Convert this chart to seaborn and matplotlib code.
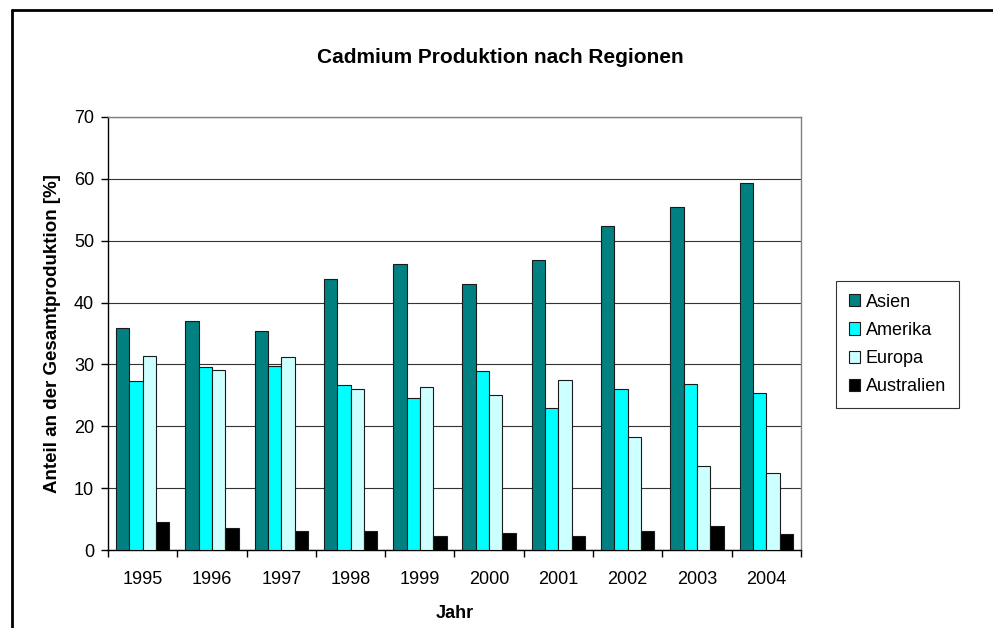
import matplotlib
matplotlib.use('Agg')
import matplotlib.pyplot as plt
import matplotlib.lines as mlines
import seaborn as sns
import pandas as pd

# Daten
jahre = ['1995', '1996', '1997', '1998', '1999', '2000', '2001', '2002', '2003', '2004']
asien = [35.9, 37.1, 35.4, 43.8, 46.3, 43.0, 46.9, 52.3, 55.4, 59.3]
amerika = [27.3, 29.6, 29.7, 26.7, 24.6, 29.0, 22.9, 26.0, 26.9, 25.4]
europa = [31.4, 29.1, 31.2, 26.0, 26.3, 25.0, 27.5, 18.2, 13.5, 12.5]
australien = [4.5, 3.5, 3.1, 3.0, 2.3, 2.7, 2.3, 3.1, 3.8, 2.6]

regionen = ['Asien', 'Amerika', 'Europa', 'Australien']
farben = ['#008080', '#00FFFF', '#CCFFFF', '#000000']

df = pd.DataFrame({'Jahr': jahre, 'Asien': asien, 'Amerika': amerika,
                   'Europa': europa, 'Australien': australien})
df = df.melt(id_vars='Jahr', var_name='Region', value_name='Anteil')

sns.set_style('white')
plt.rcParams['font.family'] = ['Liberation Sans', 'DejaVu Sans']
plt.rcParams['text.color'] = 'black'
plt.rcParams['axes.labelcolor'] = 'black'
plt.rcParams['xtick.color'] = 'black'
plt.rcParams['ytick.color'] = 'black'

fig = plt.figure(figsize=(9.93, 6.28), dpi=100)
ax = fig.add_axes([0.1088, 0.1242, 0.6978, 0.6895])

sns.barplot(data=df, x='Jahr', y='Anteil', hue='Region', hue_order=regionen,
            palette=farben, width=0.77, gap=0, saturation=1,
            edgecolor='#1a1a1a', linewidth=0.8, ax=ax, legend=False, zorder=3)

ax.set_ylim(0, 70)
ax.set_xlim(-0.5, 9.5)
ax.set_yticks(range(0, 71, 10))
ax.yaxis.grid(True, color='#333333', linewidth=0.8, zorder=0)
ax.set_axisbelow(True)

# Tick-Striche zwischen den Kategorien
ax.set_xticks([i + 0.5 for i in range(-1, 10)], minor=True)
ax.tick_params(axis='x', which='major', length=0, labelsize=13, pad=15)
ax.tick_params(axis='x', which='minor', length=5, width=1, direction='out', color='black')
ax.tick_params(axis='y', length=5, width=1, direction='out', color='black', labelsize=13, pad=5)
ax.xaxis.set_ticks_position('bottom')
ax.yaxis.set_ticks_position('left')

for s in ['left', 'bottom']:
    ax.spines[s].set_color('black')
    ax.spines[s].set_linewidth(1)
for s in ['top', 'right']:
    ax.spines[s].set_color('#808080')
    ax.spines[s].set_linewidth(1)

ax.set_xlabel('Jahr', fontsize=13, fontweight='bold', labelpad=12)
ax.set_ylabel('Anteil an der Gesamtproduktion [%]', fontsize=13.5, fontweight='bold', labelpad=9)
fig.text(0.5035, 0.908, 'Cadmium Produktion nach Regionen', ha='center', va='center',
         fontsize=15, fontweight='bold')

handles = [plt.Rectangle((0, 0), 1, 1, facecolor=c, edgecolor='#1a1a1a', linewidth=0.8)
           for c in farben]
leg = fig.legend(handles, regionen, loc='upper left', bbox_to_anchor=(0.842, 0.5525),
                 frameon=True, fancybox=False, fontsize=13, handlelength=0.65,
                 handleheight=0.65, handletextpad=0.3, labelspacing=0.62,
                 borderpad=0.7, borderaxespad=0, edgecolor='black')
leg.get_frame().set_linewidth(0.8)

# Rahmen um das Diagramm
fig.add_artist(mlines.Line2D([0.0125, 1.0], [0.984, 0.984], color='black', linewidth=2,
                             transform=fig.transFigure))
fig.add_artist(mlines.Line2D([0.0125, 0.0125], [0.0, 0.984], color='black', linewidth=2,
                             transform=fig.transFigure))

fig.savefig('out.png', dpi=100)
